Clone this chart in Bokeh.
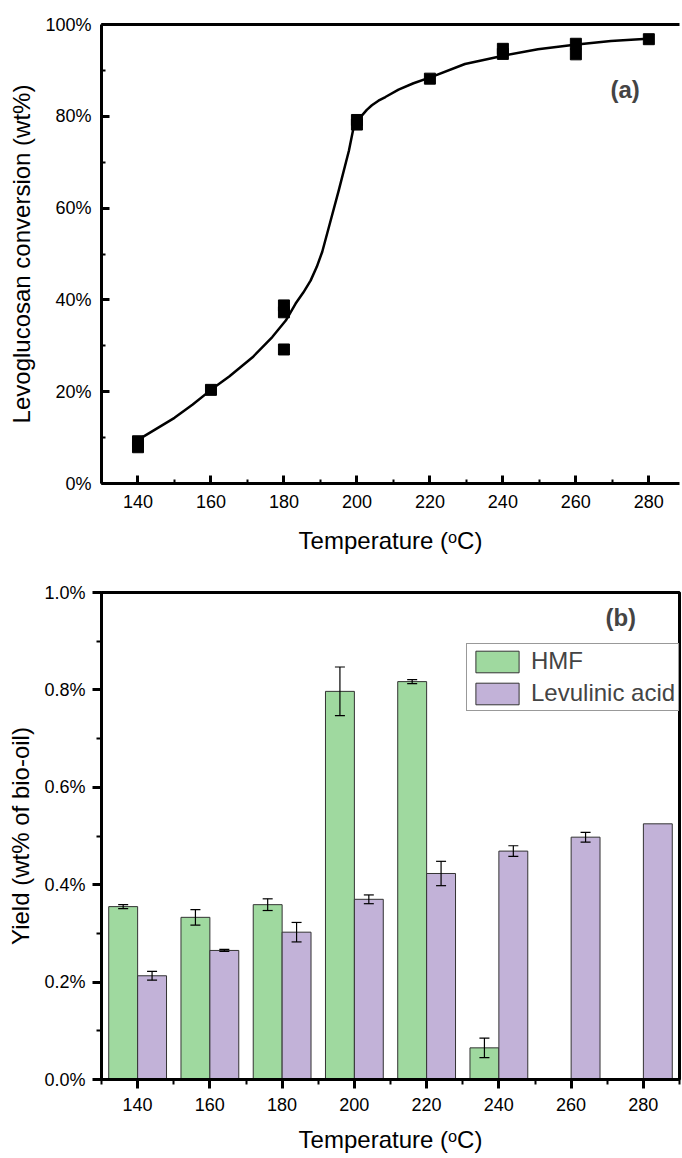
from bokeh.plotting import figure
from bokeh.layouts import column
from bokeh.models import (Range1d, SingleIntervalTicker, PrintfTickFormatter, LinearAxis,
                          FixedTicker, Whisker, ColumnDataSource, Label, TeeHead)
from bokeh.embed import file_html
from bokeh.resources import INLINE

# ---------------- data (a) ----------------
pt_temp = [140, 140, 160, 180, 180, 180, 200, 200, 220, 240, 240, 260, 260, 280]
pt_conv = [9.2, 7.9, 20.4, 38.8, 37.3, 29.2, 79.2, 78.2, 88.2, 94.7, 93.6, 95.8, 93.5, 96.8]

curve_temp = [140, 145, 150, 155, 160, 165, 171.4, 176.8, 180.5, 183.2, 185.3, 187.3, 189.0,
              190.5, 192.8, 195.0, 197.8, 199.1, 200.0, 201.4, 202.7, 204.1, 205.9, 207.8,
              211.4, 215.5, 220.5, 229.6, 240.1, 249.6, 259.6, 269.6, 279.6]
curve_conv = [9.5, 11.9, 14.3, 17.2, 20.4, 23.3, 27.5, 31.9, 35.5, 39.2, 41.6, 44.2, 47.2,
              50.5, 57.3, 63.8, 72.5, 77.6, 79.0, 80.2, 81.4, 82.4, 83.4, 84.2,
              85.8, 87.2, 88.6, 91.4, 93.2, 94.6, 95.6, 96.4, 96.9]

# ---------------- data (b) ----------------
temps = [140, 160, 180, 200, 220, 240, 260, 280]
hmf = [0.355, 0.333, 0.359, 0.797, 0.817, 0.065, None, None]
hmf_err = [0.004, 0.016, 0.012, 0.050, 0.004, 0.020, None, None]
la = [0.213, 0.265, 0.3025, 0.370, 0.423, 0.469, 0.4976, 0.525]
la_err = [0.009, 0.002, 0.020, 0.009, 0.025, 0.011, 0.010, None]

FONT = "Liberation Sans"
TICK_FS = "18px"
TITLE_FS = "24px"
GREEN = "#9fd99f"
PURPLE = "#c2b2d8"
XTITLE = "Temperature (\u1d52C)"


def style_axis(ax, inward, label_standoff):
    ax.axis_line_width = 3
    ax.axis_line_color = "black"
    ax.major_tick_line_width = 3
    ax.minor_tick_line_width = 2
    ax.major_tick_line_color = "black"
    ax.minor_tick_line_color = "black"
    if inward:
        ax.major_tick_in = 8
        ax.major_tick_out = 0
        ax.minor_tick_in = 4
        ax.minor_tick_out = 0
    else:
        ax.major_tick_in = 0
        ax.major_tick_out = 9
        ax.minor_tick_in = 0
        ax.minor_tick_out = 5
    ax.major_label_text_font = FONT
    ax.major_label_text_font_size = TICK_FS
    ax.major_label_text_color = "black"
    ax.major_label_standoff = label_standoff
    ax.axis_label_text_font = FONT
    ax.axis_label_text_font_size = TITLE_FS
    ax.axis_label_text_font_style = "normal"
    ax.axis_label_text_color = "black"


# ---------------- figure (a) ----------------
p1 = figure(width=682, height=562, x_range=Range1d(130, 288.4), y_range=Range1d(0, 100),
            output_backend="svg", toolbar_location=None,
            min_border_left=101, min_border_right=0, min_border_top=24, min_border_bottom=79)
p1.outline_line_color = None
p1.xgrid.visible = False
p1.ygrid.visible = False

p1.xaxis.ticker = SingleIntervalTicker(interval=20, num_minor_ticks=2)
p1.yaxis.ticker = SingleIntervalTicker(interval=20, num_minor_ticks=2)
p1.yaxis.formatter = PrintfTickFormatter(format="%d%%")
p1.xaxis.axis_label = XTITLE
p1.yaxis.axis_label = "Levoglucosan conversion (wt%)"
style_axis(p1.xaxis[0], True, 11)
style_axis(p1.yaxis[0], True, 10)
p1.xaxis.axis_label_standoff = 16
p1.yaxis.axis_label_standoff = 7

top_ax = LinearAxis(ticker=FixedTicker(ticks=[]), axis_line_width=3, axis_line_color="black",
                    major_tick_line_color=None, minor_tick_line_color=None)
p1.add_layout(top_ax, "above")

p1.line(curve_temp, curve_conv, line_width=2.5, color="black", line_join="round")
p1.scatter(pt_temp, pt_conv, marker="square", size=11, color="black")
p1.add_layout(Label(x=269.5, y=85.8, text="(a)", text_font=FONT, text_font_style="bold",
                    text_font_size="24px", text_baseline="middle", text_align="left"))

# ---------------- figure (b) ----------------
p2 = figure(width=682, height=596, x_range=Range1d(130, 290), y_range=Range1d(0, 1.0),
            output_backend="svg", toolbar_location=None,
            min_border_left=101, min_border_right=3, min_border_top=30, min_border_bottom=79)
p2.outline_line_color = "black"
p2.outline_line_width = 3
p2.xgrid.visible = False
p2.ygrid.visible = False

p2.xaxis.ticker = SingleIntervalTicker(interval=20, num_minor_ticks=2)
p2.yaxis.ticker = SingleIntervalTicker(interval=0.2, num_minor_ticks=2)
p2.yaxis.formatter = PrintfTickFormatter(format="%.1f%%")
p2.xaxis.axis_label = XTITLE
p2.yaxis.axis_label = "Yield (wt% of bio-oil)"
style_axis(p2.xaxis[0], False, 9)
style_axis(p2.yaxis[0], False, 7)
p2.xaxis.axis_label_standoff = 12
p2.yaxis.axis_label_standoff = 7

hx = [t - 4 for t, v in zip(temps, hmf) if v is not None]
hv = [v for v in hmf if v is not None]
lx = [t + 4 for t in temps]

p2.vbar(x=hx, top=hv, width=8, fill_color=GREEN, line_color="#333333", line_width=1,
        legend_label="HMF")
p2.vbar(x=lx, top=la, width=8, fill_color=PURPLE, line_color="#333333", line_width=1,
        legend_label="Levulinic acid")

hx_e = [t - 4 for t, v, e in zip(temps, hmf, hmf_err) if e is not None]
h_lo = [v - e for v, e in zip(hmf, hmf_err) if e is not None]
h_hi = [v + e for v, e in zip(hmf, hmf_err) if e is not None]
lx_e = [t + 4 for t, e in zip(temps, la_err) if e is not None]
l_lo = [v - e for v, e in zip(la, la_err) if e is not None]
l_hi = [v + e for v, e in zip(la, la_err) if e is not None]

err_src = ColumnDataSource(dict(x=hx_e + lx_e, lower=h_lo + l_lo, upper=h_hi + l_hi))
wh = Whisker(source=err_src, base="x", lower="lower", upper="upper",
             line_color="black", line_width=1.2, level="overlay",
             upper_head=TeeHead(size=10, line_color="black", line_width=1.2),
             lower_head=TeeHead(size=10, line_color="black", line_width=1.2))
p2.add_layout(wh)

p2.legend.location = (365, 368)
p2.legend.glyph_width = 54
p2.legend.glyph_height = 27
p2.legend.label_text_font = FONT
p2.legend.label_text_font_size = "24px"
p2.legend.label_height = 27
p2.legend.padding = 3
p2.legend.spacing = 4
p2.legend.label_standoff = 7
p2.legend.margin = 0
p2.legend.border_line_color = "#333333"
p2.legend.border_line_width = 1
p2.legend.background_fill_alpha = 1.0

p2.add_layout(Label(x=269.5, y=0.949, text="(b)", text_font=FONT, text_font_style="bold",
                    text_font_size="24px", text_baseline="middle", text_align="left"))

layout = column(p1, p2, spacing=0)
open("out.html", "w").write(file_html(layout, INLINE))
